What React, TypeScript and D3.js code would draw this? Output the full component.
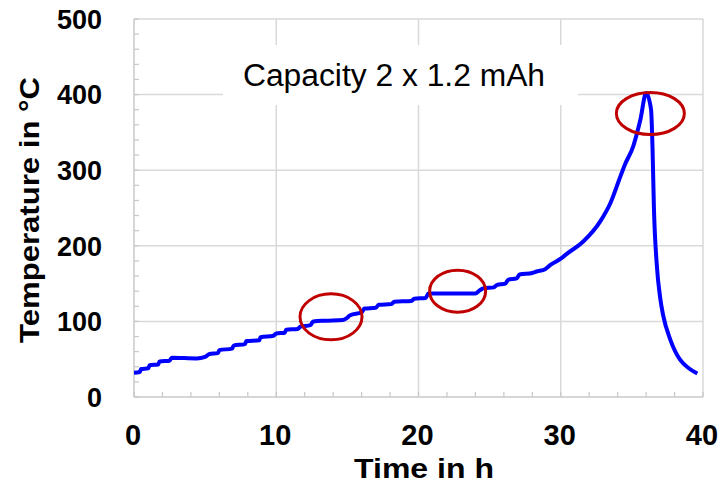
import React, { useEffect, useRef } from 'react';
import * as d3 from 'd3';

const timeH = [
  0, 0.4, 0.5, 1.0, 1.1, 1.7, 1.8, 2.5, 2.65, 4.4, 5.0, 5.3, 5.9, 6.0, 6.9, 7.0,
  7.8, 7.9, 8.8, 8.9, 9.8, 10.0, 10.6, 10.7, 11.5, 11.7, 12.4, 12.6, 13.5, 14.7,
  15.0, 15.2, 16.0, 16.2, 17.0, 17.2, 18.1, 18.3, 19.5, 19.7, 20.5, 20.7, 24.0,
  24.3, 24.6, 25.3, 25.5, 26.1, 26.3, 26.9, 27.1, 28.0, 28.3, 28.9, 29.3, 30.0,
  30.4, 31.6, 32.8, 33.5, 34.1, 34.5, 35.1, 35.6, 36.0, 36.35, 36.45, 36.55,
  36.75, 37.0, 37.2, 37.7, 38.4, 39.0, 39.6,
];
const tempC = [
  32, 33, 37, 38, 42, 43, 47, 48, 52, 51, 53, 57, 58, 62, 64, 68,
  70, 74, 75, 79, 81, 84, 85, 89, 90, 93, 95, 100, 101, 102,
  105, 108, 112, 117, 118, 122, 123, 126, 127, 130, 131, 137, 137,
  141, 144, 145, 148, 150, 155, 157, 162, 164, 166, 169, 175, 183,
  189, 206, 233, 257, 287, 307, 332, 367, 402, 380, 330, 250,
  175, 130, 108, 76, 49, 38, 31,
];

// Highlighted events (red ellipses), in data units
const markT = [13.85, 22.75, 36.3];
const markC = [106, 140, 375];
const markRx = [31, 28, 34];
const markRy = [23, 21, 21];

const xTicks = [0, 10, 20, 30, 40];
const yTicks = [0, 100, 200, 300, 400, 500];
const annotation = 'Capacity 2 x 1.2 mAh';

const W = 719;
const H = 494;

const App = () => {
  const ref = useRef<SVGSVGElement | null>(null);

  useEffect(() => {
    const svg = d3.select(ref.current);
    svg.selectAll('*').remove();

    const x = d3.scaleLinear().domain([0, 40]).range([134, 703]);
    const y = d3.scaleLinear().domain([0, 500]).range([397, 19]);
    const font = '"Liberation Sans", Arial, sans-serif';
    const grid = '#d9d9d9';

    // Gridlines
    svg.append('g')
      .selectAll('line')
      .data(yTicks.filter(d => d > 0))
      .join('line')
      .attr('x1', x(0)).attr('x2', x(40))
      .attr('y1', d => y(d)).attr('y2', d => y(d))
      .attr('stroke', grid).attr('stroke-width', 1.5);

    svg.append('g')
      .selectAll('line')
      .data(xTicks.filter(d => d > 0))
      .join('line')
      .attr('x1', d => x(d)).attr('x2', d => x(d))
      .attr('y1', y(0)).attr('y2', y(500))
      .attr('stroke', grid).attr('stroke-width', 1.5);

    // Axis lines + minor ticks (inside)
    const axisCol = '#c8c8c8';
    svg.append('line')
      .attr('x1', x(0)).attr('x2', x(0)).attr('y1', y(0)).attr('y2', y(500))
      .attr('stroke', axisCol).attr('stroke-width', 1.5);
    svg.append('line')
      .attr('x1', x(0)).attr('x2', x(40)).attr('y1', y(0)).attr('y2', y(0))
      .attr('stroke', axisCol).attr('stroke-width', 1.5);

    svg.append('g')
      .selectAll('line')
      .data(d3.range(0, 501, 20))
      .join('line')
      .attr('x1', x(0)).attr('x2', x(0) + 5)
      .attr('y1', d => y(d)).attr('y2', d => y(d))
      .attr('stroke', axisCol).attr('stroke-width', 1.2);

    svg.append('g')
      .selectAll('line')
      .data(d3.range(0, 41, 2))
      .join('line')
      .attr('x1', d => x(d)).attr('x2', d => x(d))
      .attr('y1', y(0)).attr('y2', y(0) - 5)
      .attr('stroke', axisCol).attr('stroke-width', 1.2);

    // Annotation box
    svg.append('rect')
      .attr('x', 223).attr('y', 45).attr('width', 355).attr('height', 60)
      .attr('fill', '#fff');
    svg.append('text')
      .attr('x', 394).attr('y', 86)
      .attr('text-anchor', 'middle')
      .attr('font-family', font).attr('font-size', 31)
      .attr('textLength', 302).attr('lengthAdjust', 'spacingAndGlyphs')
      .attr('fill', '#000')
      .text(annotation);

    // Temperature curve
    const pts = timeH.map((t, i) => [t, tempC[i]] as [number, number]);
    const line = d3.line<[number, number]>()
      .x(d => x(d[0]))
      .y(d => y(d[1]))
      .curve(d3.curveMonotoneX);
    svg.append('path')
      .datum(pts)
      .attr('d', line)
      .attr('fill', 'none')
      .attr('stroke', '#0000ff')
      .attr('stroke-width', 4)
      .attr('stroke-linejoin', 'round');

    // Red ellipses
    svg.append('g')
      .selectAll('ellipse')
      .data(markT)
      .join('ellipse')
      .attr('cx', d => x(d))
      .attr('cy', (d, i) => y(markC[i]))
      .attr('rx', (d, i) => markRx[i])
      .attr('ry', (d, i) => markRy[i])
      .attr('fill', 'none')
      .attr('stroke', '#c00000')
      .attr('stroke-width', 3);

    // Tick labels
    svg.append('g')
      .selectAll('text')
      .data(yTicks)
      .join('text')
      .attr('x', 102)
      .attr('y', d => y(d))
      .attr('dy', '0.36em')
      .attr('text-anchor', 'end')
      .attr('font-family', font).attr('font-size', 27).attr('font-weight', 700)
      .text(d => d);

    svg.append('g')
      .selectAll('text')
      .data(xTicks)
      .join('text')
      .attr('x', d => x(d) - 1)
      .attr('y', 445)
      .attr('text-anchor', 'middle')
      .attr('font-family', font).attr('font-size', 29).attr('font-weight', 700)
      .text(d => d);

    // Axis titles
    svg.append('text')
      .attr('x', 424).attr('y', 478)
      .attr('text-anchor', 'middle')
      .attr('font-family', font).attr('font-size', 28).attr('font-weight', 700)
      .attr('textLength', 140).attr('lengthAdjust', 'spacingAndGlyphs')
      .text('Time in h');

    svg.append('text')
      .attr('transform', 'translate(39,210) rotate(-90)')
      .attr('text-anchor', 'middle')
      .attr('font-family', font).attr('font-size', 28).attr('font-weight', 700)
      .attr('textLength', 266).attr('lengthAdjust', 'spacingAndGlyphs')
      .text('Temperature in °C');
  }, []);

  return (
    <div style={{ position: 'absolute', top: 0, left: 0, width: W, height: H, background: '#fff' }}>
      <svg ref={ref} width={W} height={H} />
    </div>
  );
};

export default App;
